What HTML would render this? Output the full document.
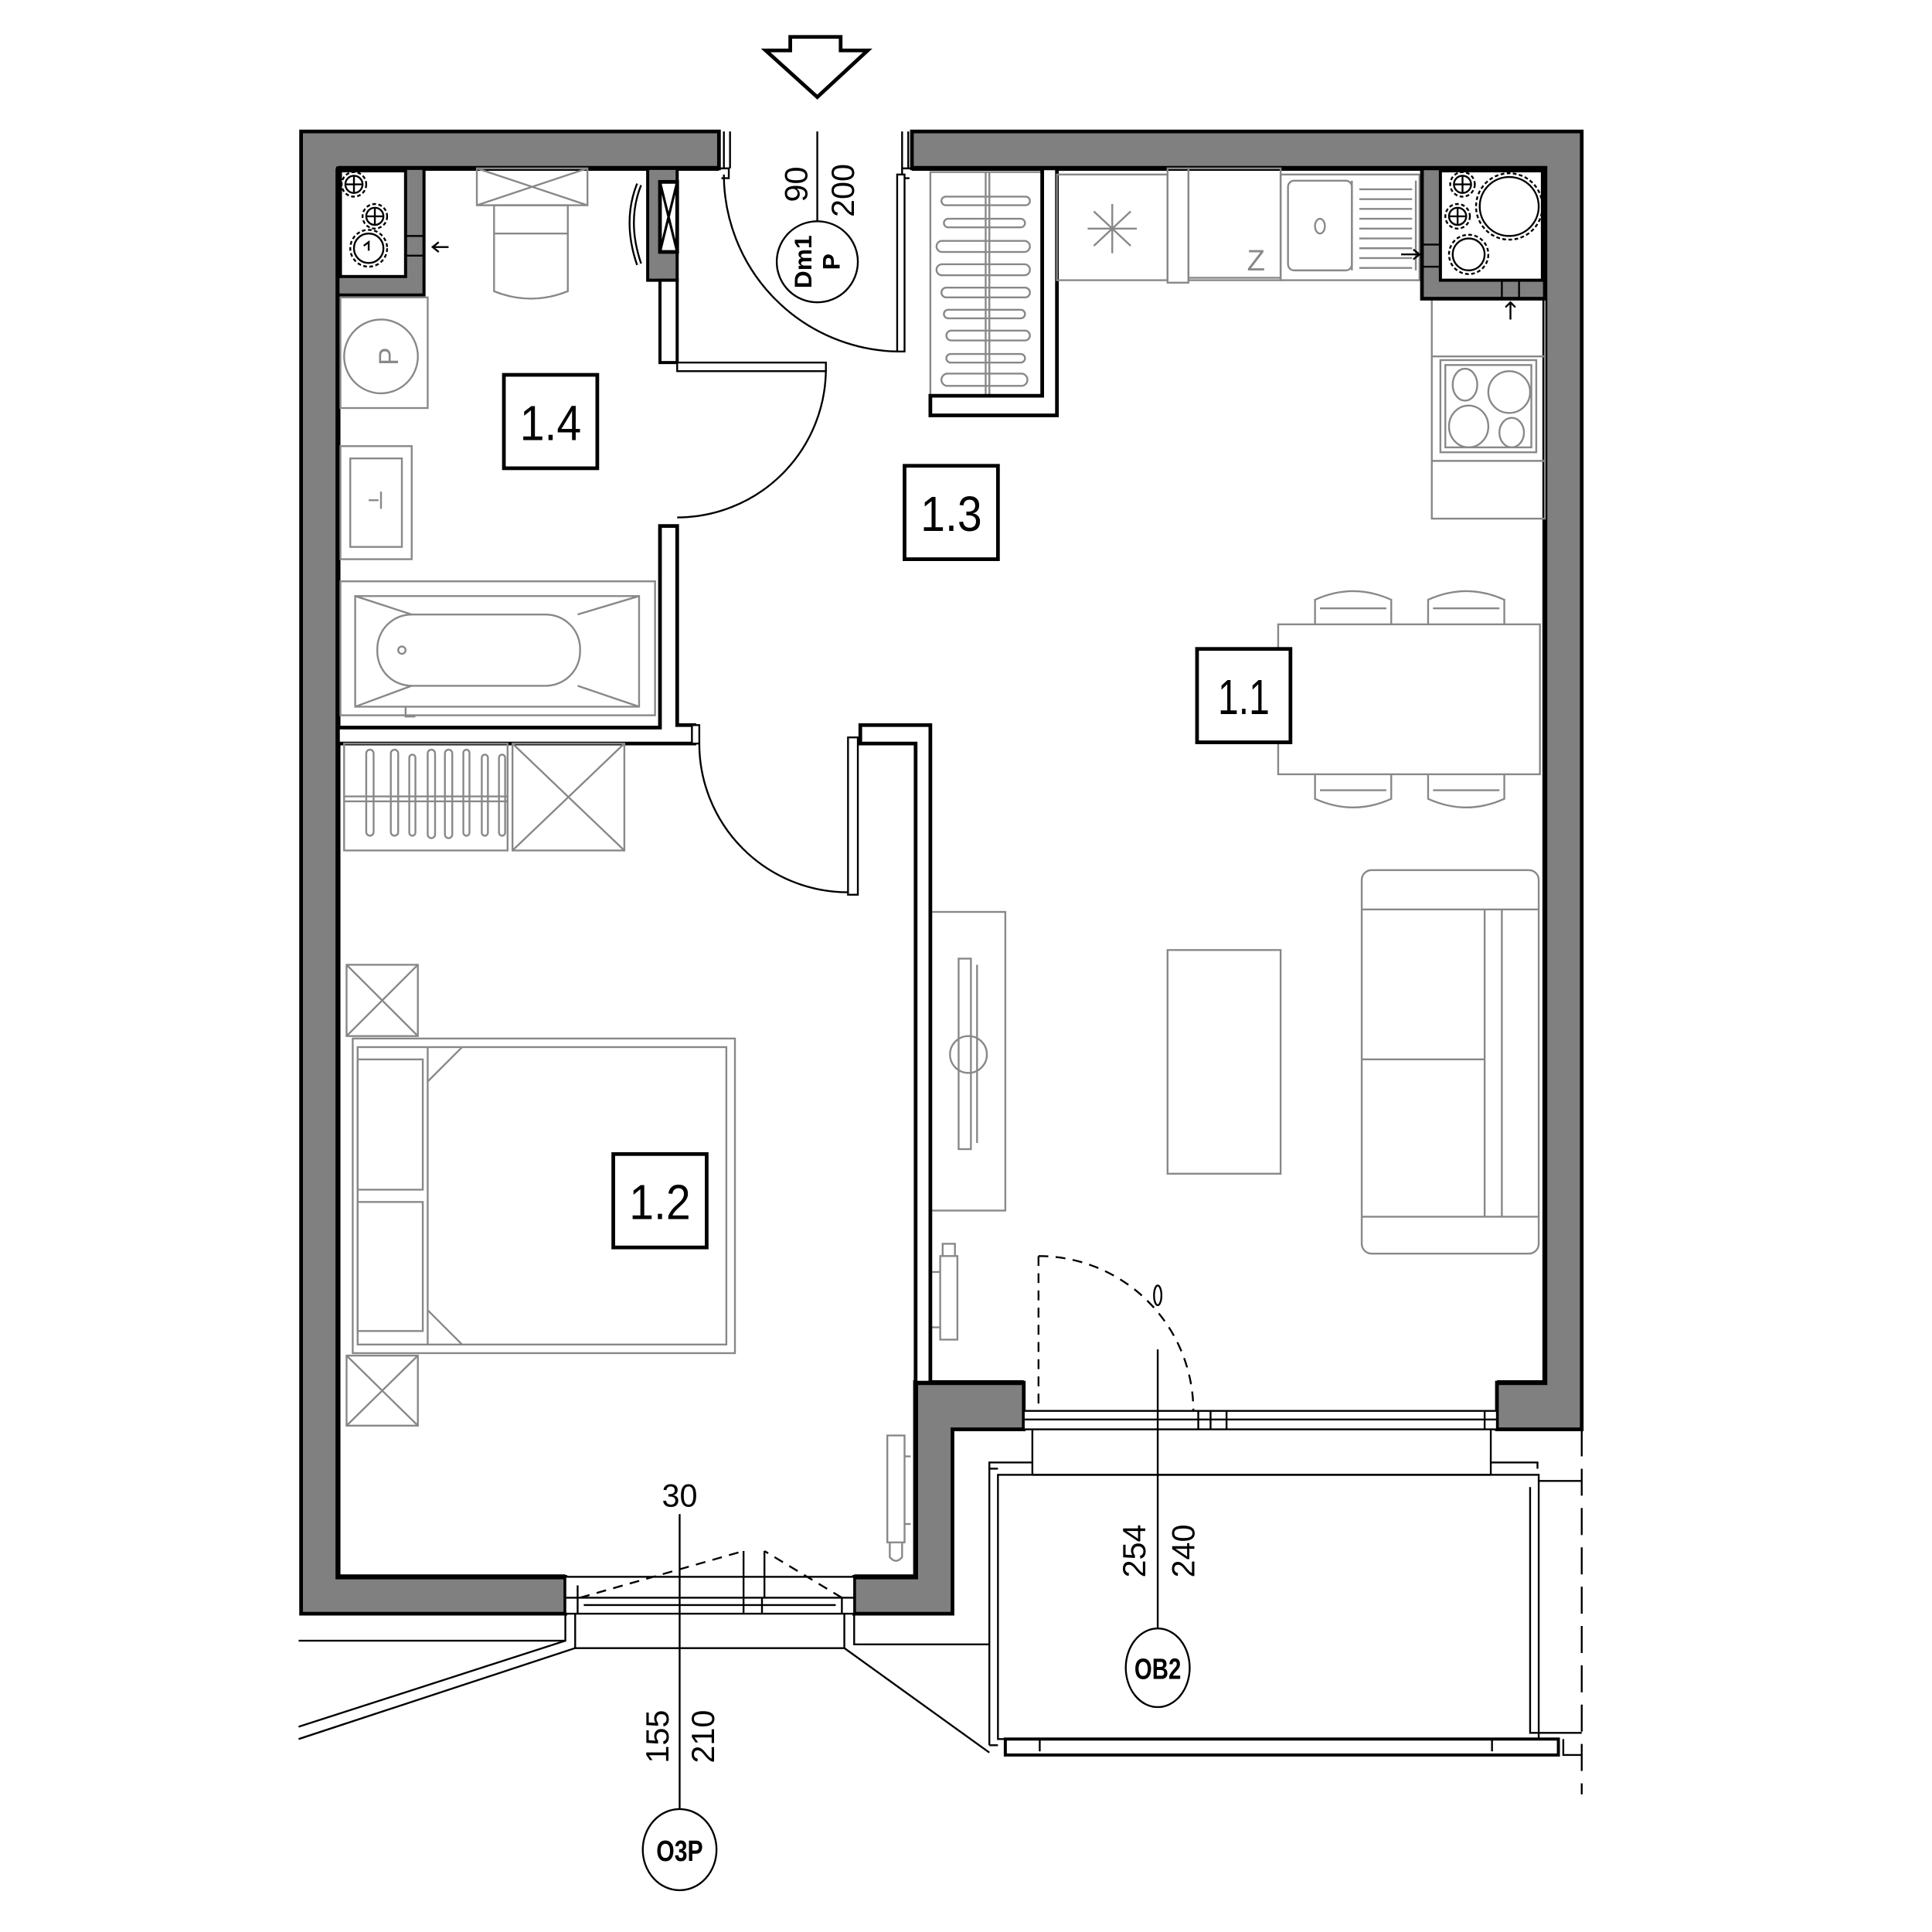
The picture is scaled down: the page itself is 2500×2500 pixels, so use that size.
<!DOCTYPE html>
<html><head><meta charset="utf-8"><style>
html,body{margin:0;padding:0;background:#fff;}
svg{display:block;}
text{font-family:"Liberation Sans",sans-serif;}
</style></head><body>
<svg width="2500" height="2500" viewBox="0 0 1572 1572" xmlns="http://www.w3.org/2000/svg">
<rect width="1572" height="1572" fill="#fff"/>
<!-- entry arrow -->
<polygon points="643,30 684,30 684,41 706,41 665,79 623,41 643,41" fill="#fff" stroke="#000" stroke-width="3" stroke-linejoin="miter"/>

<!-- exterior walls -->
<g fill="#808080" stroke="#000" stroke-width="3">
<polygon points="245,107 585,107 585,137 275,137 275,1283 460,1283 460,1313 245,1313"/>
<polygon points="742,107 1287,107 1287,1163 1218,1163 1218,1125 1257,1125 1257,137 742,137"/>
<polygon points="695,1283 745,1283 745,1125 833,1125 833,1163 775,1163 775,1313 695,1313"/>
</g>
<g stroke="#000" stroke-width="4" fill="none">
<polyline points="275,137 585,137"/><polyline points="275,137 275,1283 460,1283"/>
<polyline points="742,137 1257,137 1257,1125 1218,1125"/>
<polyline points="695,1283 745,1283 745,1125 833,1125"/>
</g>

<!-- bathroom shaft -->
<g stroke="#000" stroke-width="2.5">
<polygon points="275,137 345,137 345,240 275,240" fill="#808080"/>
<rect x="277" y="139" width="53" height="86" fill="#fff"/>
<rect x="330" y="192" width="15" height="16" fill="none" stroke-width="1.5"/>
</g>
<g stroke="#000" fill="none" stroke-width="1.5">
<circle cx="288" cy="150" r="7"/><path d="M281,150h14M288,143v14"/><circle cx="288" cy="150" r="10" stroke-dasharray="3,2"/>
<circle cx="305" cy="176" r="7"/><path d="M298,176h14M305,169v14"/><circle cx="305" cy="176" r="10" stroke-dasharray="3,2"/>
<circle cx="300" cy="202" r="12"/><circle cx="300" cy="202" r="15" stroke-dasharray="3,2"/>
<path d="M296,200l4,-3v7"/>
<path d="M365,201h-13M357,197l-5,4 5,4"/>
</g>

<!-- upper partition bathroom/hall -->
<polygon points="527,137 551,137 551,228 527,228" fill="#808080" stroke="#000" stroke-width="2.5"/>
<rect x="537" y="148" width="14" height="57" fill="#fff" stroke="#000" stroke-width="3"/>
<path d="M537,148L551,205M551,148L537,205" stroke="#000" stroke-width="2"/>
<rect x="537" y="228" width="14" height="67" fill="#fff" stroke="#000" stroke-width="2.5"/>
<path d="M520,150 Q508,180 520,215" fill="none" stroke="#000" stroke-width="5"/>
<path d="M520,150 Q508,180 520,215" fill="none" stroke="#fff" stroke-width="2"/>

<!-- bathroom fixtures (gray) -->
<g stroke="#888" fill="none" stroke-width="1.5">
<rect x="388" y="137" width="90" height="30"/><path d="M388,137L478,167M478,137L388,167"/>
<path d="M402,167h60v70 q-30,12 -60,0z"/><path d="M402,190h60"/>
<rect x="277" y="242" width="71" height="90"/><circle cx="310" cy="290" r="30"/>
<rect x="277" y="363" width="58" height="92"/><rect x="285" y="373" width="42" height="72"/>
<path d="M300,407h8M310,400v14"/>
<rect x="277" y="473" width="256" height="109"/><rect x="289" y="485" width="231" height="90"/>
<path d="M289,485L335,500M289,575L335,558M520,485L470,500M520,575L470,558"/>
<rect x="307" y="500" width="165" height="58" rx="28"/><circle cx="327" cy="529" r="3"/>
<path d="M330,575v8h8"/>
</g>
<text x="0" y="0" transform="translate(318,290) rotate(-90)" font-size="22" fill="#888" text-anchor="middle" dominant-baseline="middle">P</text>

<!-- bath partition walls -->
<g fill="#fff" stroke="#000" stroke-width="3">
<polygon points="537,428 551,428 551,590 565,590 565,605 275,605 275,592 537,592"/>
</g>
<!-- bathroom door -->
<rect x="551" y="295" width="121" height="7" fill="#fff" stroke="#000" stroke-width="1.5"/>
<path d="M672,300 A121,121 0 0 1 551,421" fill="none" stroke="#000" stroke-width="1.5"/>

<!-- entrance door -->
<g stroke="#000" stroke-width="1.5" fill="none">
<path d="M589,107v30M594,107v30M734,107v30M739,107v30"/>
<path d="M585,137h8v8h-6M742,137h-8v8h6"/>
<rect x="730" y="142" width="6" height="144" fill="#fff"/>
<path d="M589,142 A144,144 0 0 0 730,286"/>
<path d="M665,107V180"/>
<circle cx="665" cy="213" r="33" fill="#fff"/>
</g>
<text transform="translate(650,150) rotate(-90)" font-size="26" text-anchor="middle" dominant-baseline="middle">90</text>
<text transform="translate(688,155) rotate(-90)" font-size="26" text-anchor="middle" dominant-baseline="middle">200</text>
<text transform="translate(655,213) rotate(-90)" font-size="20" font-weight="bold" text-anchor="middle" dominant-baseline="middle">Dm1</text>
<text transform="translate(678,213) rotate(-90)" font-size="20" font-weight="bold" text-anchor="middle" dominant-baseline="middle">P</text>

<!-- hall wardrobe -->
<g stroke="#888" fill="none" stroke-width="1.5">
<rect x="757" y="140" width="91" height="182"/><path d="M802,140v182M805,140v182"/>
<rect x="766" y="160" width="72" height="7" rx="3.5"/><rect x="768" y="178" width="66" height="7" rx="3.5"/>
<rect x="762" y="196" width="76" height="9" rx="4.5"/><rect x="762" y="215" width="76" height="9" rx="4.5"/>
<rect x="766" y="234" width="72" height="8" rx="4"/><rect x="768" y="252" width="66" height="7" rx="3.5"/>
<rect x="770" y="269" width="68" height="8" rx="4"/><rect x="770" y="288" width="64" height="7" rx="3.5"/>
<rect x="766" y="304" width="70" height="10" rx="5"/>
</g>
<polygon points="848,137 860,137 860,338 757,338 757,322 848,322" fill="#fff" stroke="#000" stroke-width="3"/>

<!-- kitchen counter -->
<g stroke="#888" fill="none" stroke-width="1.5">
<rect x="860" y="142" width="90" height="86"/><path d="M905,166v40M890,172l30,28M920,172l-30,28M885,186h40"/>
<rect x="950" y="137" width="17" height="93"/>
<rect x="967" y="137" width="75" height="91"/><path d="M967,226h75"/>
<rect x="1042" y="142" width="113" height="86"/><rect x="1048" y="147" width="52" height="73" rx="5"/>
<ellipse cx="1074" cy="184" rx="4" ry="6"/>
<path d="M1106,154h43M1106,162h43M1106,170h43M1106,178h43M1106,186h43M1106,194h43M1106,202h43M1106,210h43M1106,218h43M1100,147v73M1152,147v73"/>
<rect x="1165" y="243" width="92" height="179"/><path d="M1165,290h92M1165,375h92"/>
<rect x="1172" y="293" width="78" height="75"/><rect x="1176" y="297" width="70" height="67"/>
<ellipse cx="1192" cy="313" rx="10" ry="13"/><ellipse cx="1228" cy="319" rx="17" ry="17"/>
<ellipse cx="1195" cy="347" rx="16" ry="17"/><ellipse cx="1230" cy="352" rx="10" ry="12"/>
</g>
<text x="1022" y="220" font-size="24" fill="#888" text-anchor="middle">Z</text>

<!-- kitchen shaft -->
<polygon points="1157,137 1257,137 1257,243 1157,243" fill="#808080" stroke="#000" stroke-width="3"/>
<rect x="1172" y="139" width="83" height="89" fill="#fff" stroke="#000" stroke-width="2.5"/>
<g stroke="#000" fill="none" stroke-width="1.5">
<circle cx="1190" cy="150" r="7"/><path d="M1183,150h14M1190,143v14"/><circle cx="1190" cy="150" r="10" stroke-dasharray="3,2"/>
<circle cx="1186" cy="176" r="7"/><path d="M1179,176h14M1186,169v14"/><circle cx="1186" cy="176" r="10" stroke-dasharray="3,2"/>
<circle cx="1195" cy="207" r="13"/><circle cx="1195" cy="207" r="16" stroke-dasharray="3,2"/>
<circle cx="1228" cy="168" r="24"/><circle cx="1228" cy="168" r="27" stroke-dasharray="3,2"/>
<rect x="1157" y="199" width="15" height="18"/>
<rect x="1222" y="228" width="14" height="15"/>
<path d="M1140,207h15M1150,203l5,4 -5,4"/>
<path d="M1229,260v-14M1225,250l4,-4 4,4"/>
</g>

<!-- dining -->
<g stroke="#888" fill="none" stroke-width="1.5">
<rect x="1040" y="508" width="213" height="122"/>
<path d="M1070,508v-20q31,-14 62,0v20M1074,495h54"/>
<path d="M1162,508v-20q31,-14 62,0v20M1166,495h54"/>
<path d="M1070,630v20q31,14 62,0v-20M1074,643h54"/>
<path d="M1162,630v20q31,14 62,0v-20M1166,643h54"/>
<rect x="1108" y="708" width="144" height="312" rx="8"/>
<path d="M1208,740v250M1222,740v250M1108,862h100M1108,740h144M1108,990h144"/>
<rect x="950" y="773" width="92" height="182"/>
<rect x="757" y="742" width="61" height="243"/>
<rect x="780" y="780" width="10" height="155"/><path d="M795,785v145"/>
<path d="M788,843 a15,15 0 0 0 0,30M788,843a15,15 0 0 1 0,30"/>
<rect x="765" y="1022" width="14" height="68"/><path d="M757,1035h8M757,1080h8M767,1022v-10h10v10"/>
</g>

<!-- bedroom partition -->
<polygon points="700,590 757,590 757,1125 745,1125 745,605 700,605" fill="#fff" stroke="#000" stroke-width="3"/>
<rect x="690" y="600" width="8" height="128" fill="#fff" stroke="#000" stroke-width="1.5"/>
<rect x="563" y="590" width="6" height="15" fill="#fff" stroke="#000" stroke-width="1.5"/>
<path d="M569,605 A121,121 0 0 0 690,726" fill="none" stroke="#000" stroke-width="1.5"/>

<!-- bedroom furniture -->
<g stroke="#888" fill="none" stroke-width="1.5">
<rect x="280" y="605" width="133" height="87"/><path d="M280,652h133M280,648h133"/>
<rect x="318" y="610" width="6" height="70" rx="3"/><rect x="333" y="614" width="5" height="66" rx="2.5"/>
<rect x="348" y="610" width="6" height="72" rx="3"/><rect x="362" y="610" width="6" height="72" rx="3"/>
<rect x="377" y="610" width="5" height="70" rx="2.5"/><rect x="392" y="614" width="5" height="66" rx="2.5"/>
<rect x="406" y="614" width="5" height="66" rx="2.5"/><rect x="298" y="610" width="6" height="70" rx="3"/>
<rect x="417" y="605" width="91" height="87"/><path d="M417,605L508,692M508,605L417,692"/>
<rect x="282" y="785" width="58" height="58"/><path d="M282,785L340,843M340,785L282,843"/>
<rect x="282" y="1103" width="58" height="57"/><path d="M282,1103L340,1160M340,1103L282,1160"/>
<rect x="287" y="845" width="311" height="256"/><rect x="291" y="852" width="300" height="242"/>
<path d="M348,852v242M348,880L376,852M348,1066L376,1094"/>
<rect x="291" y="862" width="53" height="106"/><rect x="291" y="978" width="53" height="105"/>
<rect x="722" y="1168" width="14" height="87"/><path d="M736,1185h5M736,1240h5M724,1255v12q5,6 10,0v-12"/>
</g>

<!-- room labels -->
<g fill="#fff" stroke="#000" stroke-width="3">
<rect x="410" y="305" width="76" height="76"/>
<rect x="736" y="379" width="76" height="76"/>
<rect x="974" y="528" width="76" height="76"/>
<rect x="499" y="939" width="76" height="76"/>
</g>
<g font-size="38" text-anchor="middle" transform="scale(0.85,1)">
<text x="experimental" y="0"></text>
</g>
<text x="448" y="358" font-size="40" text-anchor="middle" textLength="50" lengthAdjust="spacingAndGlyphs">1.4</text>
<text x="774" y="432" font-size="40" text-anchor="middle" textLength="50" lengthAdjust="spacingAndGlyphs">1.3</text>
<text x="1012" y="581" font-size="40" text-anchor="middle" textLength="42" lengthAdjust="spacingAndGlyphs">1.1</text>
<text x="537" y="992" font-size="40" text-anchor="middle" textLength="50" lengthAdjust="spacingAndGlyphs">1.2</text>

<!-- balcony door -->
<g stroke="#000" stroke-width="1.5" fill="none">
<rect x="833" y="1148" width="385" height="15" fill="#fff"/>
<path d="M833,1155h385M975,1148v15M985,1148v15M998,1148v15M1208,1148v15"/>
<path d="M845,1022v126M845,1022 A126,126 0 0 1 971,1148" stroke-dasharray="8,6"/>
<path d="M942,1098V1325"/>
<ellipse cx="942" cy="1054" rx="3" ry="8"/>
<ellipse cx="942" cy="1357" rx="26" ry="32" fill="#fff"/>
<!-- balcony -->
<path d="M840,1163v37M1213,1163v37M840,1200h373"/>
<path d="M812,1195h-7v-5h35M1213,1190h38v5"/>
<rect x="812" y="1200" width="440" height="215"/>
<path d="M805,1195V1420M805,1420h7"/>
<path d="M1252,1205h35M1245,1210v200h42"/>
<rect x="818" y="1415" width="450" height="13" stroke-width="2.5"/>
<path d="M846,1415v10M1214,1415v10M1272,1415v13h15"/>
<path d="M1287,1163V1460" stroke-dasharray="22,10"/>
<!-- bottom window -->
<rect x="460" y="1283" width="235" height="30" fill="#fff"/>
<path d="M460,1300h235M470,1300v13M685,1300v13M605,1300v13M620,1300v13M475,1306h205M470,1300v-10"/>
<path d="M472,1300L605,1262M685,1300L622,1262" stroke-dasharray="8,6"/>
<path d="M605,1262v38M622,1262v38"/>
<path d="M553,1232V1473"/>
<ellipse cx="553" cy="1505" rx="30" ry="33" fill="#fff"/>
<path d="M468,1313v28h219v-28M460,1313v22h-217M687,1341l118,85M695,1313v25h110"/>
<path d="M468,1341L243,1415M460,1335L243,1405"/>
</g>
<text x="942" y="1075" font-size="0"> </text>
<text transform="translate(925,1262) rotate(-90)" font-size="26" text-anchor="middle" dominant-baseline="middle">254</text>
<text transform="translate(965,1262) rotate(-90)" font-size="26" text-anchor="middle" dominant-baseline="middle">240</text>
<text x="942" y="1366" font-size="24" font-weight="bold" text-anchor="middle" textLength="38" lengthAdjust="spacingAndGlyphs">OB2</text>
<text x="553" y="1226" font-size="26" text-anchor="middle">30</text>
<text transform="translate(537,1413) rotate(-90)" font-size="26" text-anchor="middle" dominant-baseline="middle">155</text>
<text transform="translate(574,1413) rotate(-90)" font-size="26" text-anchor="middle" dominant-baseline="middle">210</text>
<text x="553" y="1514" font-size="24" font-weight="bold" text-anchor="middle" textLength="38" lengthAdjust="spacingAndGlyphs">O3P</text>
</svg>
</body></html>
